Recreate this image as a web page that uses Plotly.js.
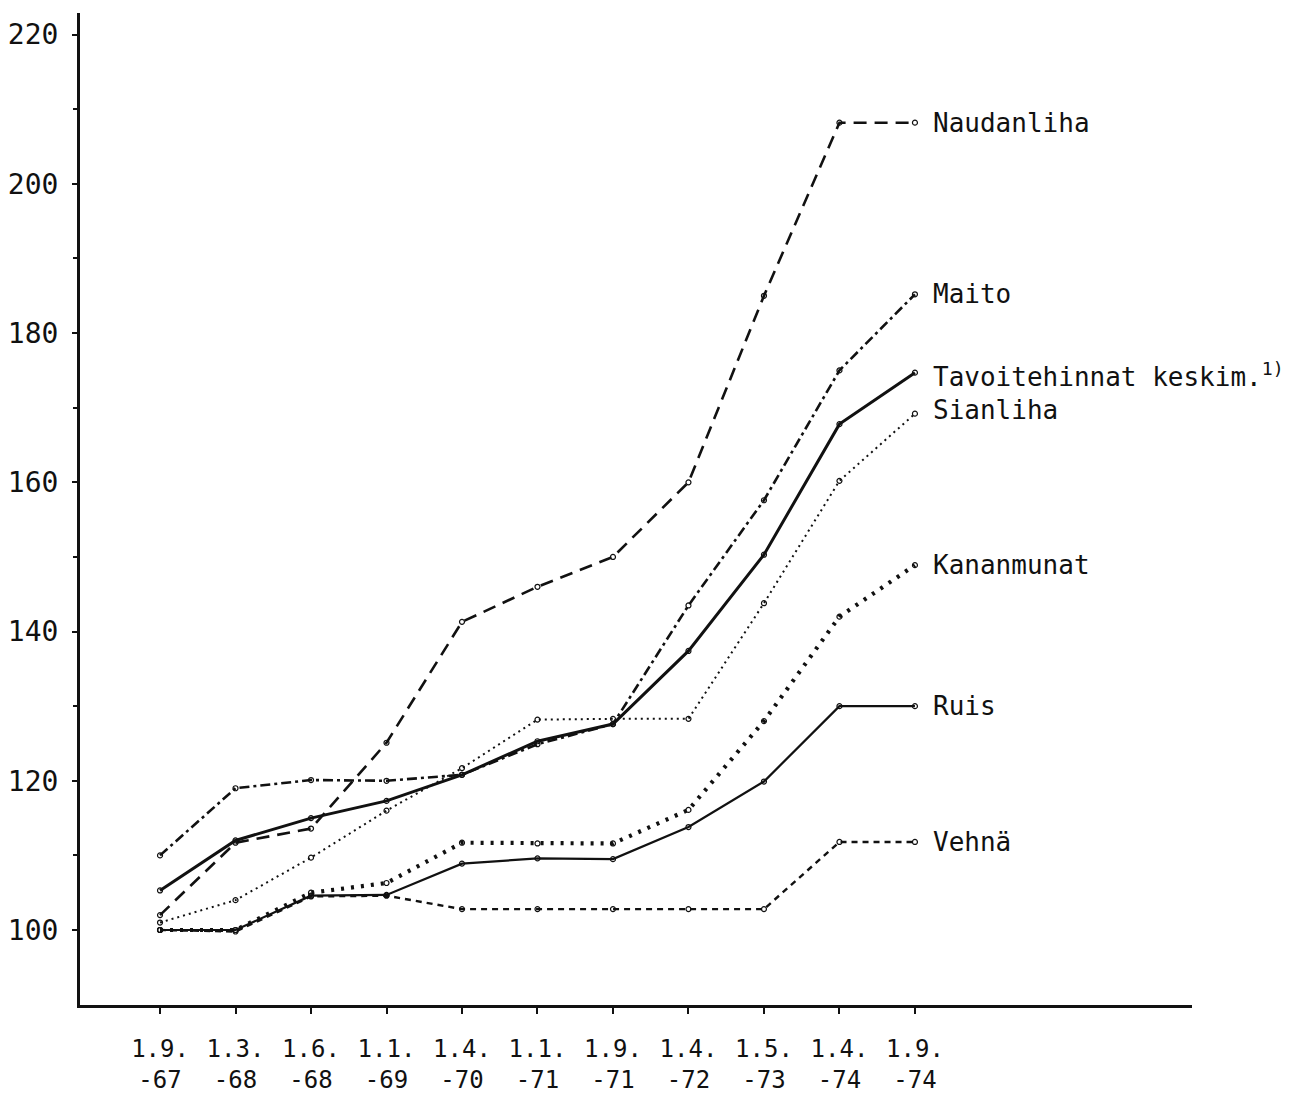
<!DOCTYPE html>
<html>
<head>
<meta charset="utf-8">
<script src="https://cdn.plot.ly/plotly-3.0.1.min.js"></script>
<style>html,body{margin:0;padding:0;background:#fff;}#chart{width:1315px;height:1094px;}</style>
</head>
<body>
<div id="chart"></div>
<script>
// Tick labels (dates)
const dateLabels = ["1.9.<br>-67","1.3.<br>-68","1.6.<br>-68","1.1.<br>-69","1.4.<br>-70","1.1.<br>-71","1.9.<br>-71","1.4.<br>-72","1.5.<br>-73","1.4.<br>-74","1.9.<br>-74"];
const xIndex = [0,1,2,3,4,5,6,7,8,9,10];

// Series values (index, 1.9.1967 = 100)
const naudanliha   = [102, 111.7, 113.6, 125.1, 141.3, 146, 150, 160, 185, 208.2, 208.2];
const maito        = [110, 119, 120.1, 120, 120.8, 124.9, 127.6, 143.5, 157.6, 175, 185.2];
const tavoitehinnat= [105.3, 112, 115, 117.3, 120.8, 125.3, 127.6, 137.4, 150.3, 167.8, 174.7];
const sianliha     = [101, 104, 109.7, 116, 121.7, 128.2, 128.3, 128.3, 143.8, 160.2, 169.2];
const kananmunat   = [100, 100, 105, 106.3, 111.7, 111.6, 111.6, 116.1, 128, 142, 148.9];
const ruis         = [100, 100, 104.6, 104.7, 108.9, 109.6, 109.5, 113.8, 119.9, 130, 130];
const vehna        = [100, 99.8, 104.5, 104.6, 102.8, 102.8, 102.8, 102.8, 102.8, 111.8, 111.8];

const seriesNames = ["Naudanliha","Maito","Tavoitehinnat keskim.<sup>1)</sup>","Sianliha","Kananmunat","Ruis","Vehnä"];

const series = [
  {y: naudanliha,    dash: "13px,8px",           width: 2.6},
  {y: maito,         dash: "10px,4px,3px,4px",   width: 2.6},
  {y: tavoitehinnat, dash: "solid",              width: 3},
  {y: sianliha,      dash: "2px,4px",            width: 2},
  {y: kananmunat,    dash: "3px,7px",            width: 4.2},
  {y: ruis,          dash: "solid",              width: 2.2},
  {y: vehna,         dash: "6px,5px",            width: 2.4}
];

const traces = series.map((s, i) => ({
  x: xIndex,
  y: s.y,
  type: "scatter",
  mode: "lines+markers",
  name: seriesNames[i],
  line: {color: "#111", width: s.width, dash: s.dash},
  marker: {symbol: "circle-open", size: 5, color: "#111", line: {width: 1.2, color: "#111"}},
  hoverinfo: "skip"
}));

const annotations = series.map((s, i) => ({
  xref: "x", yref: "y",
  x: xIndex[xIndex.length - 1],
  y: s.y[s.y.length - 1],
  text: seriesNames[i],
  showarrow: false,
  xanchor: "left",
  yanchor: "middle",
  xshift: 16,
  yshift: i === 3 ? 4 : (i === 2 ? -2 : 0),
  font: {family: "DejaVu Sans Mono, monospace", size: 26, color: "#111"}
}));

const layout = {
  width: 1315, height: 1094,
  paper_bgcolor: "#fff", plot_bgcolor: "#fff",
  margin: {l: 80, r: 123, t: 13, b: 89},
  showlegend: false,
  xaxis: {
    range: [-1.06, 13.67],
    tickmode: "array", tickvals: xIndex, ticktext: dateLabels,
    showgrid: false, zeroline: false,
    showline: true, linecolor: "#111", linewidth: 3,
    ticks: "outside", ticklen: 6, tickwidth: 2, tickcolor: "#111",
    tickfont: {family: "DejaVu Sans Mono, monospace", size: 24, color: "#111"},
    ticklabelstandoff: 14
  },
  yaxis: {
    range: [89.95, 222.9],
    tickmode: "array", tickvals: [100,120,140,160,180,200,220],
    showgrid: false, zeroline: false,
    showline: true, linecolor: "#111", linewidth: 3,
    ticks: "outside", ticklen: 5, tickwidth: 2, tickcolor: "#111",
    minor: {tickvals: [110,130,150,170,190,210], ticks: "outside", ticklen: 4, tickwidth: 2, tickcolor: "#111"},
    tickfont: {family: "DejaVu Sans Mono, monospace", size: 28, color: "#111"},
    ticklabelstandoff: 8
  },
  annotations: annotations
};

Plotly.newPlot("chart", traces, layout, {staticPlot: true});
</script>
</body>
</html>
